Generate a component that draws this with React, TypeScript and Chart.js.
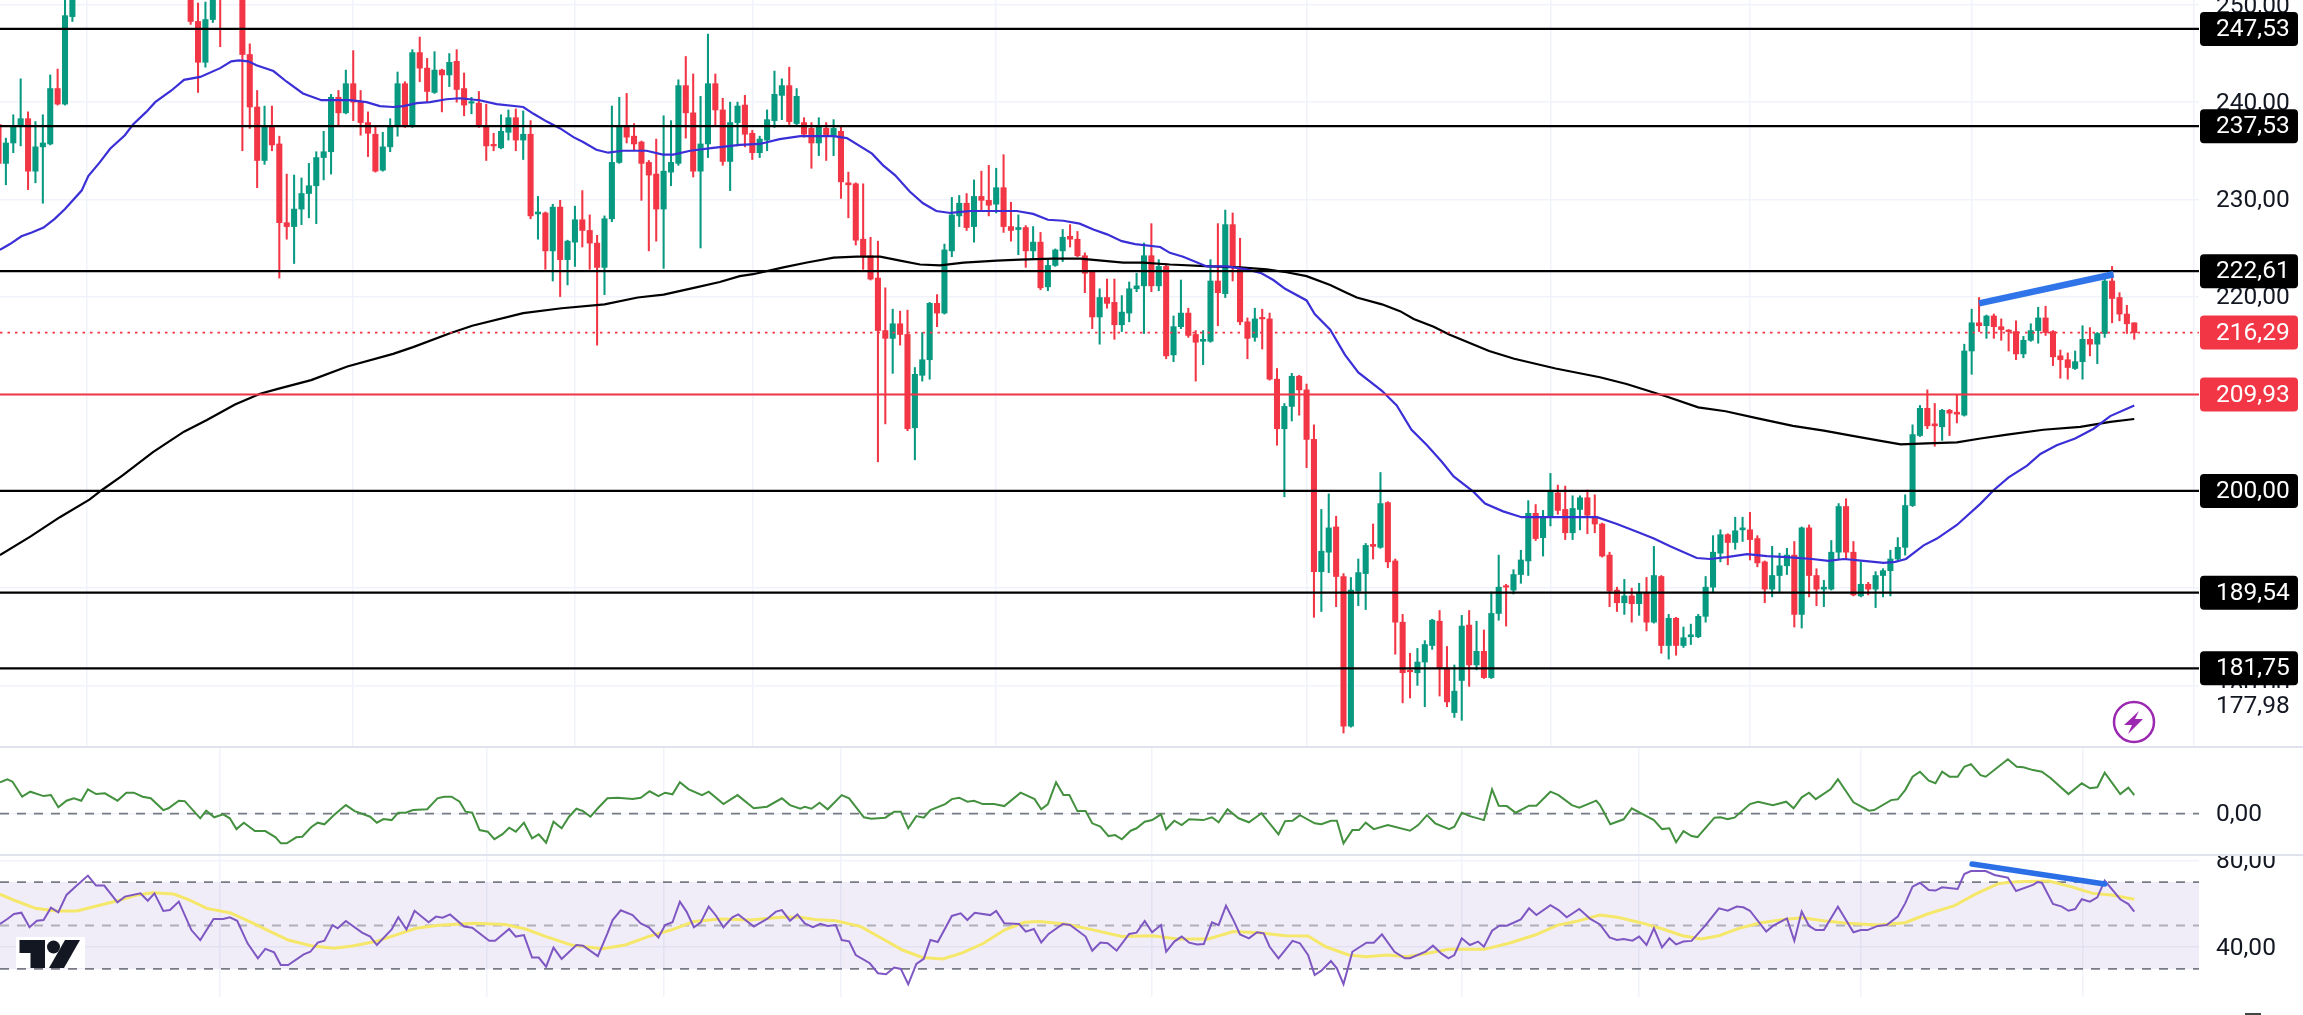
import React, { useEffect, useRef } from "react";
import { Chart, registerables } from "chart.js";

Chart.register(...registerables);

// ---------- candles (decimal comma prices) ----------
const opens = [
  237.7,233.7,235.8,237.5,238.3,232.9,235.4,235.7,241.4,239.8,
  248.8,252,254,256,255,257.5,256,258,259.5,257,
  255.5,257,258,256,257,255,253,248.3,244.1,248.5,
  254,251.5,253,254,244.9,239.5,234.0,237.5,235.7,227.6,
  227.2,229.0,230.6,231.4,234.3,234.9,240.5,238.9,241.9,240.0,
  237.9,236.7,233.0,235.4,237.5,241.9,237.5,245.1,243.5,241.0,
  243.3,242.8,244.2,241.4,239.9,239.9,237.5,235.6,235.3,236.9,
  238.4,236.1,236.7,228.5,228.6,224.7,229.2,223.8,225.6,227.9,
  226.8,225.5,223.0,228.0,233.8,237.6,236.5,235.9,233.8,232.6,
  229.0,232.8,233.7,241.7,238.9,232.9,235.7,241.9,239.2,233.9,
  237.9,239.7,236.8,234.8,236.1,238.1,240.7,241.7,237.8,237.9,
  237.3,235.8,237.3,236.5,237.0,231.7,231.6,225.9,224.2,221.9,
  216.5,215.7,217.2,216.1,206.5,211.9,213.5,219.3,218.3,224.7,
  228.3,229.6,227.2,230.3,229.9,229.5,231.2,227.2,226.9,227.1,
  224.7,225.6,221.0,223.2,224.7,226.2,225.9,224.2,222.5,217.9,
  219.9,219.4,217.1,218.3,220.8,221.1,224.2,221.1,223.1,214.0,
  216.9,218.3,216.1,215.4,215.4,221.6,220.3,227.4,223.0,217.4,
  215.8,217.8,217.7,211.5,206.4,208.7,211.8,210.4,205.3,191.7,
  193.7,196.3,191.2,175.8,189.7,191.5,194.5,194.2,198.8,192.8,
  186.5,181.5,181.3,182.4,184.1,186.6,181.8,177.2,180.5,186.2,
  182.1,183.5,180.8,187.4,190.2,189.8,191.4,192.8,197.7,195.2,
  197.3,199.8,198.1,195.7,198.1,199.3,197.4,196.6,193.4,189.8,
  188.5,189.2,188.4,189.5,186.5,191.2,184.1,186.9,184.1,185.0,
  185.0,187.1,190.1,193.6,195.5,194.7,196.0,196.0,195.1,192.7,
  189.9,191.3,192.3,193.4,187.3,196.2,191.3,189.9,189.9,193.7,
  198.4,193.7,189.2,190.4,189.9,191.3,191.8,193.0,194.2,198.5,
  205.7,208.5,206.9,206.6,208.3,208.1,207.8,214.4,217.3,217.0,
  218.0,216.9,216.5,216.4,214.1,215.5,216.5,217.8,216.4,213.9,
  213.5,212.6,213.3,215.6,215.1,216.2,221.6,219.9,218.2,217.3,
];
const highs = [
  237.8,236.3,238.7,242.4,239.0,238.0,238.7,242.8,243.4,252,
  253.5,255,257,258,258.5,260,259,261,261,259,
  258,259,260,258,259,257,254,250.2,250.3,254,
  255,254,255,255.5,246.0,241.2,239.6,239.6,236.5,232.6,
  232.5,232.2,233.7,234.9,237.0,240.8,241.2,243.3,245.3,241.2,
  239.0,237.5,236.9,238.3,243.1,242.1,245.4,246.7,244.5,245.2,
  243.4,245.0,245.4,243.0,240.5,241.1,239.8,236.8,238.7,239.2,
  239.3,239.1,238.1,230.3,228.7,229.5,229.9,225.8,229.3,230.9,
  228.4,226.3,228.3,239.6,240.5,240.9,237.8,236.0,234.0,236.2,
  238.6,238.1,242.3,244.7,242.9,240.6,247.0,242.9,240.4,240.0,
  240.0,240.7,237.1,236.5,239.2,243.2,242.4,243.6,241.4,238.4,
  237.9,238.4,237.9,238.2,237.6,232.8,231.7,231.6,226.1,225.7,
  220.9,218.7,218.5,218.6,212.7,216.3,219.4,220.2,225.4,230.2,
  230.4,230.6,232.0,232.9,233.5,233.2,234.6,229.7,228.4,227.3,
  227.2,226.6,223.8,224.9,226.9,227.4,226.7,224.5,222.6,220.8,
  221.8,221.8,220.1,221.5,222.4,225.5,227.5,223.8,223.4,218.0,
  221.7,218.8,216.5,216.5,223.8,227.5,228.9,228.6,226.0,217.8,
  218.8,218.7,218.3,212.6,209.0,212.1,211.9,211.0,206.8,198.1,
  199.7,197.4,191.5,191.1,193.0,194.6,196.6,201.9,198.9,193.0,
  187.3,183.3,183.8,184.6,186.8,187.7,184.0,182.1,187.2,187.7,
  186.6,185.7,189.6,193.4,190.4,191.9,193.9,199.0,198.6,198.0,
  201.8,200.6,200.5,199.5,199.5,200.1,199.6,196.7,193.7,190.1,
  190.9,190.0,190.5,191.1,194.3,191.3,187.3,187.0,186.0,186.3,
  187.3,191.2,195.4,196.0,195.6,197.3,197.3,197.8,195.4,192.8,
  194.3,193.6,194.1,194.8,196.3,196.5,192.0,190.8,194.9,198.7,
  199.2,194.8,192.7,190.6,191.7,192.0,193.9,195.2,199.6,206.8,
  208.8,210.4,209.0,208.4,208.4,209.9,215.1,218.7,219.9,218.1,
  218.2,217.7,216.6,217.5,215.9,217.2,218.9,219.0,216.5,214.5,
  214.2,214.4,217.0,216.8,216.3,221.9,223.1,220.4,219.1,217.3,
];
const lows = [
  230.4,231.5,234.8,235.5,231.0,231.7,229.6,235.6,239.7,239.7,
  248.3,251.5,252.5,254,253.5,255.5,254,256.5,256,254.5,
  253.5,255,255,254,254.5,252.5,248.0,241.0,243.6,248.2,
  245.7,251,251,235.0,237.3,231.2,233.6,235.0,221.9,225.9,
  223.4,227.4,228.1,227.5,232.0,232.6,237.5,238.8,238.1,236.6,
  234.4,232.8,232.9,234.9,236.5,237.4,237.4,242.1,240.0,240.9,
  239.0,241.6,240.0,238.6,238.8,237.4,234.0,235.0,235.2,236.1,
  235.0,234.1,228.0,225.9,222.8,221.6,220.0,221.2,223.1,225.1,
  222.8,215.0,220.2,227.7,233.7,235.8,235.1,229.9,224.7,225.7,
  222.9,231.4,233.5,236.3,232.3,225.0,234.3,237.6,233.5,230.9,
  235.5,235.4,234.1,234.3,235.0,237.4,238.2,237.7,237.5,236.4,
  233.2,234.5,234.0,234.5,230.1,228.1,225.3,222.8,221.7,203.0,
  206.9,212.1,215.0,206.2,203.2,211.3,211.5,216.9,218.2,224.1,
  227.2,226.8,225.6,228.9,228.3,228.6,226.6,225.7,224.3,223.0,
  223.9,220.7,220.6,223.1,223.6,225.1,224.1,220.4,216.7,215.1,
  218.8,215.6,216.4,217.4,220.5,216.2,220.5,220.6,213.6,213.3,
  216.7,215.8,211.3,213.0,215.3,217.0,219.9,221.6,217.1,213.6,
  215.4,214.6,211.4,204.7,199.4,207.2,207.8,202.4,187.0,187.6,
  191.6,188.1,175.1,175.7,188.2,187.8,193.0,194.1,192.1,183.2,
  178.2,178.7,180.0,177.8,183.7,178.9,177.8,176.7,176.4,179.9,
  181.6,180.7,180.7,186.7,186.1,189.4,190.5,191.3,194.9,193.3,
  196.4,197.6,195.0,195.0,196.0,195.6,195.7,193.2,188.1,187.6,
  187.3,186.5,187.2,185.6,186.4,183.3,182.7,183.1,183.9,184.2,
  184.9,186.5,189.6,192.7,192.4,194.0,194.8,192.9,192.2,188.5,
  189.1,189.6,191.4,186.0,185.9,189.1,188.2,188.1,189.8,193.0,
  193.0,189.2,189.1,189.3,188.0,189.1,189.2,192.9,193.4,198.4,
  205.6,206.4,204.6,205.2,205.7,207.0,207.7,212.0,216.4,215.7,
  215.7,215.5,214.4,213.5,213.7,215.4,215.2,216.0,212.9,211.6,
  211.5,212.5,211.5,213.9,213.1,215.8,217.3,217.5,216.2,215.6,
];
const closes = [
  233.7,235.8,237.5,238.3,232.9,235.4,235.8,241.4,239.8,248.9,
  252,254,256,255,257.5,256,258,259.5,257,255.5,
  257,258,256,257,255,253,248.3,244.1,248.5,252,
  251.5,253,254,244.9,239.5,234.0,237.5,235.6,227.6,227.2,
  229.0,230.6,231.4,234.3,234.9,240.5,238.9,241.9,240.0,237.9,
  236.8,232.9,235.4,237.5,241.9,237.5,245.1,243.5,241.1,243.3,
  242.8,244.1,241.3,239.7,240.0,237.5,235.5,235.5,237.0,238.4,
  236.1,236.7,228.3,228.7,224.7,229.2,223.8,225.7,227.9,226.8,
  225.5,223.0,228.0,233.8,237.6,236.4,235.7,233.7,232.5,229.0,
  232.9,233.8,241.7,238.9,232.9,235.7,241.9,239.2,233.9,237.9,
  239.6,236.7,234.8,236.2,238.2,240.8,241.7,238.0,240.6,236.7,
  235.8,237.6,236.5,237.3,231.8,231.5,225.8,224.1,221.8,216.5,
  215.7,217.2,216.1,206.4,212.0,213.5,219.3,218.3,224.8,228.4,
  229.6,227.1,230.3,229.9,229.4,231.2,227.2,226.8,227.1,224.7,
  225.6,220.9,223.2,224.8,226.1,225.9,224.2,222.4,217.9,219.9,
  219.3,217.1,218.4,220.8,221.1,224.2,221.1,223.1,213.9,216.9,
  218.3,216.0,215.3,215.6,221.6,220.4,227.4,223.0,217.4,215.7,
  217.7,217.7,211.5,206.4,208.7,211.8,210.4,205.3,191.7,193.8,
  196.2,191.2,175.8,189.8,191.6,194.4,194.3,198.7,192.7,186.5,
  181.3,181.4,182.4,184.2,186.7,181.8,178.3,179.4,186.1,182.1,
  183.5,180.8,187.4,190.1,190.1,191.4,192.9,197.7,195.1,197.3,
  200.0,198.0,195.7,198.2,199.3,197.5,196.6,193.3,189.7,188.5,
  189.2,188.4,189.5,186.5,191.3,184.1,186.9,184.1,184.9,185.2,
  187.1,190.1,193.7,195.5,194.7,195.9,196.2,195.0,192.6,189.9,
  191.3,192.3,193.4,187.3,196.2,191.3,189.9,190.1,193.7,198.4,
  193.7,189.3,190.4,189.9,191.3,191.8,193.0,194.2,198.5,205.8,
  208.5,206.7,206.7,208.3,208.0,207.9,214.4,217.3,217.0,218.0,
  216.9,216.6,216.4,214.1,215.5,216.5,217.8,216.3,213.8,213.5,
  212.7,213.3,215.6,215.1,216.2,221.6,219.8,218.2,217.2,216.29,
];

// ---------- moving averages ----------
const ma50Index = [0.2,1.55,3.1,4.5,6.1,7.6,9,11.25,12.15,13.7,15.1,17.1,18.2,20,21.2,23.4,25.1,27.3,30,31.5,32.5,33.8,34.9,37.2,39,41.2,43.7,47.6,49.8,51.6,53.4,54.8,56.6,58.4,60.6,62.4,65.1,67.4,71,72.4,74.2,76,77.8,79.1,80.9,82.5,84.5,87.7,89.9,91.3,93.6,96.7,100.3,103,105.7,108.5,113,114.8,118.2,119.7,121.3,123.3,125.1,126.9,128.8,131.5,135.1,137.8,140,142,144.1,146.3,148.15,150,152,153.8,157.2,158.5,160.3,163.5,166.2,168.9,170.9,172.5,174.1,177,178.1,180.2,182.2,184,187.2,189.2,191.2,193.3,195.3,196.9,199.6,201.15,203.6,206.1,209,212.2,216.3,219,221.7,224,226.2,229.8,231.6,233.85,236.6,239.3,242,245.4,247.6,249.7,252.4,255.1,256.65,258.1,260.5,262.3,265,268.2,270,272,274.5,276.3,278.5,281,283.5,285.75,289];
const ma50Values = [224.8,225.4,226.2,226.6,227.1,228,229,230.9,232.4,233.8,235.2,236.6,237.7,239,240,241.2,242.3,242.6,243.5,244.2,244.3,244.2,243.8,243.2,242.1,240.9,240.2,240.2,240,239.6,239.5,239.6,239.9,240,240.3,240.4,240.2,239.8,239.5,238.8,238,237.3,236.4,235.9,235.1,234.8,235,235,234.6,234.6,235,235.3,235.6,235.7,236.2,236.5,236.5,236.3,234.7,233.5,232.5,230.8,229.6,228.8,228.6,228.8,228.8,228.8,228.5,227.9,227.8,227.5,226.9,226.4,225.7,225.4,225.1,224.5,224.1,223.1,223.1,222.8,222.4,221.7,220.8,219.6,218.2,216.6,214,212.2,210.3,208.8,206.3,204.7,203,201.5,199.9,198.7,197.9,197.3,197.3,197.3,197.3,196.6,195.8,195.1,194.3,193.1,193,193.2,193.5,193.3,193.2,193,192.8,193,192.8,192.6,192.7,193,194.4,195.1,196.5,198.7,200.1,201.4,202.6,203.8,204.7,205.4,206.4,207.7,208.8];

const ma200Index = [0.2,4.3,8.3,12.3,14,16.8,20.9,25.1,28.2,32,35.4,37.8,42.3,47.2,53.4,56.1,61,64.1,71,76.2,82,86.5,90,94.1,97.6,100.3,102.1,106.2,109.4,113,116.1,119.3,122,124.7,127.4,130.6,135.1,138.2,142.7,146.35,152.2,154.9,158.5,164,168,171.6,174.3,177,180.2,182.4,183.8,187.2,189.65,191.5,194.2,196.3,201.7,205.1,210.7,216.7,220.3,225.8,230,233.7,237.9,242.8,247,250.7,254.3,257.4,260.9,265,268.2,271.8,276.7,281.7,285.75,289];
const ma200Values = [193.4,195.3,197.3,199.1,200.1,201.6,204,206.1,207.3,208.9,210,210.5,211.4,212.8,214.1,214.8,216.2,217,218.3,218.8,219.2,219.9,220.2,220.9,221.5,222.1,222.3,223,223.5,224,224.1,224.1,223.7,223.3,223.2,223.5,223.7,223.8,223.9,223.9,223.5,223.5,223.3,223.1,223,222.8,222.5,222.1,221.2,220.4,219.9,219.2,218.5,217.7,216.9,216.1,214.4,213.6,212.6,211.7,211,209.7,208.6,208.2,207.5,206.7,206.2,205.7,205.2,204.8,204.9,205,205.4,205.8,206.3,206.6,207.1,207.4];

// ---------- money flow pane ----------
const flowIndex = [0.2,1.2,1.9,3.2,4.3,6.1,7.1,8.1,9.2,10.2,11.2,12.1,13.2,14.4,16.1,17.3,18.3,19.5,20.6,22.3,23,24.4,25.2,27.3,28.1,29.2,30.4,31.3,32.2,33.2,34.7,36.1,37.5,38.2,39,40.3,41.1,42.3,43.2,44.1,45.4,47,48.2,50.3,51.2,52.1,53.2,54.1,55.1,56.1,58,59.4,60.3,61.3,62.4,63.2,64.1,65.1,66.2,67.1,68.2,69.1,70,71.1,72.2,73.1,74.1,75.1,76.2,77.2,78.2,79.1,80.1,81.1,82.4,83.8,85.8,86.9,88.1,89.3,90.2,91.2,92.2,93.4,95.2,96.1,98.1,100,102.2,104,106,107.1,108.5,
  109.1,110,111.1,112.2,114.1,115.1,117.1,118.1,120,121.2,122.1,123.1,124.2,125.2,126.1,128.1,129,130,131.1,132,133.2,134.7,136.1,138.3,140.2,141.1,142,143.1,144.1,144.9,146,147.1,148,149.1,150.2,151.1,152,153.2,154,155.1,156.1,157.3,158,159.1,160.1,161.1,163,164.2,165.1,166.3,167.8,169.2,170.9,172,173.2,174.1,175.1,176.1,178.1,179,180.3,181.1,182,183.2,184.1,185,186.1,188,191,192.1,193.3,194.4,196.3,197,198,199.1,201,202.1,203,204.1,205.3,207.1,208.1,210,211.1,212.9,213.9,216.2,
  216.7,217.2,218.1,219.9,221,224,225.1,226.1,227,228,229.1,229.9,232.2,233,234,234.9,237,238.1,240.1,241.9,242.9,244,245,245.9,247.9,248.9,251,253.1,253.8,256.1,257,258,259,260,261.2,262.1,263,264,265.1,266,266.9,268.2,268.9,271.9,273.1,274,275.3,276.5,277.7,280.1,281.9,283,284,285,287.1,288.2,289];
const flowValues = [.157,.172,.16,.085,.11,.088,.093,.032,.065,.077,.065,.122,.098,.102,.065,.105,.105,.085,.077,.018,.027,.065,.063,-.023,.015,-.018,-.003,-.023,-.077,-.045,-.087,-.087,-.118,-.148,-.148,-.118,-.115,-.068,-.045,-.053,-.007,.043,.013,-.015,-.045,-.027,-.032,.005,.005,.018,.022,.077,.085,.085,.06,.01,.005,-.082,-.09,-.127,-.102,-.07,-.09,-.045,-.123,-.103,-.145,-.04,-.073,-.015,.025,.013,-.015,.027,.077,.08,.073,.08,.112,.088,.105,.097,.157,.122,.093,.11,.048,.093,.027,.035,.077,.043,.025,
  .035,.025,.055,.022,.093,.077,-.018,-.025,-.02,.01,.01,-.073,-.012,-.02,.018,.048,.073,.08,.06,.065,.048,.048,.038,.105,.073,.022,.048,.157,.093,.093,.013,.013,-.048,-.065,-.112,-.107,-.128,-.085,-.073,-.04,-.032,-.003,-.078,-.035,-.057,-.028,-.032,-.018,-.043,.022,-.023,-.043,.002,-.048,-.103,-.037,-.035,-.007,-.048,-.053,-.035,-.035,-.148,-.082,-.082,-.045,-.077,-.057,-.085,-.057,-.007,-.048,-.077,-.065,.005,-.012,-.032,.122,.04,.038,.005,.04,.04,.11,.093,.043,.03,.065,
  .043,.01,-.053,-.028,.027,-.032,-.077,-.073,-.143,-.087,-.112,-.117,-.02,-.018,-.027,-.02,.048,.06,.043,.06,.027,.082,.105,.073,.122,.172,.057,.015,.018,.068,.072,.118,.185,.21,.165,.152,.21,.185,.185,.235,.248,.193,.185,.272,.235,.232,.218,.21,.177,.098,.152,.127,.132,.205,.098,.13,.093];

// ---------- RSI pane ----------
const rsiIndex = [0.2,1.2,2.1,3.1,4.2,5.2,6.1,7.1,8.1,9.2,10.4,12.1,13.2,14.3,16.1,17.1,19.2,20.2,21.1,22.3,23.2,24.4,26.1,27.3,29.1,30.4,31.3,32.3,33.7,35.1,36.1,37.3,38.2,39.2,41.3,42.2,43.2,44.1,45.2,45.9,47,49.2,50.3,51.2,53.2,54.1,55.2,56.3,58.2,59.2,60.1,61.1,63,64.1,66.4,67.2,69.1,70,71.1,72.2,73.1,74.1,75.1,76.2,78.2,79.1,81.1,82.4,83.1,84.2,85.8,86.9,88,89.3,90.2,91.2,92.2,93.1,94.1,95,96.1,97.1,98.1,99.3,100.1,102.2,104,105.2,106,107.1,108.1,
  109.1,110.2,111.2,112.2,113.3,114.1,115.1,116,117.9,119,120.1,121.2,122.1,123.1,124.2,125.2,126.1,127.1,129,130.2,131.1,132.1,134.2,135,136.1,138.1,139,140.1,141.1,142.1,144,145,147.1,148,149.1,150.1,151.3,153,154,155.1,156.1,157.3,158,159.1,160.1,161.1,162.2,163.1,164.2,165.1,166.1,167.1,168,169.2,170.3,171.2,172,173.2,175.1,176.1,177.2,178.1,179,180.3,181.1,182,183.2,185.1,186.1,187.2,188.9,190.3,191,193.1,194.1,195.3,196.2,197,198,199.1,200.2,201,202.1,203.1,204.1,206,207.1,208.1,210,211.1,212.2,213.9,215.4,
  216.7,218,219,219.9,221.1,222,223,224,225.1,226.1,227,228,229.1,231,232.8,234,235.2,236.1,237,239.2,240.1,242,243,244,245,245.9,247,248.9,251,252,252.9,254.3,255.5,257,258,259,260,261.2,262.1,263,265.1,266,266.9,268.9,270.1,271.9,273,275.3,275.9,276.5,278,279.2,280.1,281,281.9,283,284,285,287.1,288.2,289];
const rsiValues = [50.7,53,55.3,55.9,49.2,52.2,52.5,58.2,56.1,64.1,67.9,73,68.4,68.4,60.7,63.3,64.8,61.4,64.8,56.7,57.1,61,47.9,43.3,53,53,53.8,52.2,41.8,34.9,39.2,37.6,31.8,31.8,36.7,37.9,42.1,43,50.2,48.7,52.1,46.7,44.9,41,48.2,53.8,48.2,56.8,51.5,54.1,53.6,55.1,49.5,49,43,43,48.4,44.9,45.6,35.2,35.2,31,39.8,34.6,41,40.7,35.9,46.4,52.5,57,54.8,51,49.2,44.5,50.2,51.5,61,56.4,49.2,51.3,58.7,54.5,49.2,53.8,55.1,49.5,53,56.4,57.1,52.2,55.1,
  51,49.2,50.8,49.8,50.2,43.3,42.7,36.4,32.6,28,27.5,30.6,30,22.9,32.3,34.6,43.3,42.4,54.4,55.6,52.5,55.9,54.8,56.7,51,50.7,47.2,48.4,42.2,46.1,50.7,50.2,44.9,38.4,42.2,41.8,38.4,46.1,46.7,52.1,46.9,50.2,37.9,42.6,44.9,42.1,41.3,41.5,51.5,50.2,59.1,52.5,45.9,44.1,46.9,46.4,40.2,34.9,42.9,41.8,36.4,27.2,29.2,33.6,30.3,23,37.9,42.1,42.1,45.9,37.9,34.9,34.9,37.9,40.7,36.9,34.9,36.4,44.1,41,42.6,40.2,47.6,49.9,49.9,52.8,57.9,54.8,59.4,57.1,53.8,57.6,53,
  50.5,44.5,43.3,43.8,43,44.9,41,48.7,39.9,44.1,41.3,42.6,42.9,50.2,57.9,56.8,58.7,58.4,56.8,47.2,49.8,53.3,43,56.4,49.8,47.9,47.9,58.7,46.9,47.9,47.9,49.8,50.2,54.1,60.2,67.9,69.7,66.4,66.1,67.6,66.8,73.7,75.1,75.1,73.3,72,65.9,68.7,70,69.7,59.9,58.7,56.8,57.6,62.1,61,63,70.7,62.1,59.9,56.4];

const rsiMaIndex = [0.2,2.3,5,7.8,10.6,13.3,16.1,18.8,20.9,23.7,25.8,28.2,31.3,34,36.8,39.2,42.3,45.4,47.9,51,53.4,56.5,59.6,64.4,68.6,71.3,74.1,77.5,81.7,84.8,87.9,91,94.1,97.6,101.7,105.9,108.5,110.5,113.3,116.7,119.5,122.3,125,127.8,130.5,133.3,136.1,138.8,140.9,144.4,147.8,152,156.1,159.6,163.7,167.1,170.6,174.1,177.2,179.6,182.7,185.1,187.9,190.6,193.4,196.2,201,204.4,207.9,211,213.4,216.7,219.1,222.2,225.2,227.9,230.4,232.8,235.5,238.5,241.6,244,247,250.1,254.3,258,261,264.6,267.7,270.7,273.1,277.4,280.4,283.4,285.9,289];
const rsiMaValues = [64.4,61.4,57.9,56.7,56.7,59,61.4,64.1,65.1,64.5,61.8,57.9,55.9,51.8,47.2,43.3,40.7,39.5,40.6,42.6,45.2,48.7,50.1,51,50.5,48.4,44.9,41,39.3,41,44.9,47.9,51.8,53,52.5,53.8,53.8,52.8,52.2,49.5,44.1,38.7,35.3,34.6,37.5,41.8,47.9,51.5,51.8,50.7,48.2,44.9,45.3,43.8,43.8,47.2,46.7,45.3,45.2,40.2,36.4,35.6,36.4,35.6,37.2,39,39,41.8,45.6,50.2,51.8,54.8,53.8,51.3,48.4,45.3,43.8,45.3,48.7,51.3,52.8,53.6,52.2,51,50.2,51.3,55.3,59,64.8,69.4,70.2,70.5,67.9,64.8,64.1,62.1];

// ---------- levels, ticks and trend lines ----------
const blackLevels = [247.53, 237.53, 222.61, 200, 189.54, 181.75];
const redLevel = 209.93;
const lastPrice = 216.29;
const priceTicks = [250, 240, 230, 220, 210, 200, 190, 180];
const plainPriceLabel = 177.98;
const flowTicks = [0];
const rsiTicks = [80, 40];
const rsiBands = [70, 50, 30];
const timeGrid = [30, 66, 90, 114, 156, 198, 222, 252, 282];
const priceTrendIndex = [268, 286.2];
const priceTrendValues = [219.3, 222.3];
const rsiTrendIndex = [267.05, 285];
const rsiTrendValues = [78.3, 69.1];

const UP = "#089981";
const DOWN = "#F23645";
const GRID = "#F0F3FA";
const TEXT = "#131722";
const AXIS_W = 104;
const X_MIN = 0.203;
const X_MAX = 297.76;
const FONT = "Roboto";
const FONT_SIZE = 24.5;

const comma = (v: number) => v.toFixed(2).replace(".", ",");
const zip = (xs: number[], ys: number[]) => xs.map((x, i) => ({ x, y: ys[i] }));
const span = (y: number) => [{ x: X_MIN, y }, { x: X_MAX, y }];

function line(data: any[], color: string, width: number, order: number, extra: any = {}) {
  return {
    type: "line",
    data,
    borderColor: color,
    borderWidth: width,
    pointRadius: 0,
    tension: 0,
    fill: false,
    order,
    ...extra,
  };
}

function scales(min: number, max: number, ticks: number[]) {
  return {
    x: {
      type: "linear",
      min: X_MIN,
      max: X_MAX,
      offset: false,
      afterBuildTicks: (s: any) => {
        s.ticks = timeGrid.map((value) => ({ value }));
      },
      ticks: { display: false },
      grid: { color: GRID, lineWidth: 1.5, drawTicks: false },
      border: { display: false },
    },
    y: {
      type: "linear",
      position: "right",
      min,
      max,
      afterBuildTicks: (s: any) => {
        s.ticks = ticks.map((value) => ({ value }));
      },
      afterFit: (s: any) => {
        s.width = AXIS_W;
        s.paddingTop = 0;
        s.paddingBottom = 0;
      },
      ticks: {
        autoSkip: false,
        padding: 17,
        labelOffset: 1.5,
        crossAlign: "near",
        color: TEXT,
        font: { family: FONT, size: FONT_SIZE },
        callback: (v: any) => comma(Number(v)),
      },
      grid: { color: GRID, lineWidth: 1.5, drawTicks: false },
      border: { display: false },
    },
  };
}

const labelsPlugin = {
  id: "priceLabels",
  afterDraw(chart: any) {
    const { ctx, scales: sc } = chart;
    const y = sc.y;
    const boxed: [number, string][] = [
      ...blackLevels.map((v): [number, string] => [v, "#000000"]),
      [lastPrice, DOWN],
      [redLevel, DOWN],
    ];
    ctx.save();
    ctx.font = `${FONT_SIZE}px ${FONT}`;
    ctx.textBaseline = "middle";
    ctx.textAlign = "left";
    const py = y.getPixelForValue(plainPriceLabel);
    ctx.fillStyle = "#ffffff";
    ctx.fillRect(2200, py - 17, 103, 34);
    ctx.fillStyle = TEXT;
    ctx.fillText(comma(plainPriceLabel), 2216, py + 1.5);
    boxed.forEach(([v, color]) => {
      const p = y.getPixelForValue(v);
      ctx.fillStyle = color;
      ctx.beginPath();
      ctx.roundRect(2200, p - 17, 98, 34, 4);
      ctx.fill();
      ctx.fillStyle = "#ffffff";
      ctx.fillText(comma(v), 2216, p + 1);
    });
    // lightning badge
    ctx.strokeStyle = "#9C27B0";
    ctx.lineWidth = 2.5;
    ctx.beginPath();
    ctx.arc(2134, 722, 20, 0, Math.PI * 2);
    ctx.stroke();
    ctx.fillStyle = "#9C27B0";
    ctx.beginPath();
    [[2139, 711], [2124, 725], [2132, 725], [2128, 734], [2143, 719], [2135, 719]].forEach(([a, b], i) =>
      i ? ctx.lineTo(a, b) : ctx.moveTo(a, b)
    );
    ctx.closePath();
    ctx.fill();
    ctx.restore();
  },
};

const logoPlugin = {
  id: "logo",
  afterDraw(chart: any) {
    const { ctx } = chart;
    const top = -856;
    ctx.save();
    ctx.fillStyle = "#ffffff";
    ctx.fillRect(16, 937 + top, 69, 31);
    ctx.fillStyle = "#131722";
    ctx.beginPath();
    [[19.5, 940], [45, 940], [45, 968], [30.5, 968], [30.5, 953], [19.5, 953]].forEach(([a, b], i) =>
      i ? ctx.lineTo(a, b + top) : ctx.moveTo(a, b + top)
    );
    ctx.closePath();
    ctx.fill();
    ctx.beginPath();
    ctx.arc(53.5, 947 + top, 6.5, 0, Math.PI * 2);
    ctx.fill();
    ctx.beginPath();
    [[65, 940], [80, 940], [64, 968], [49, 968]].forEach(([a, b], i) =>
      i ? ctx.lineTo(a, b + top) : ctx.moveTo(a, b + top)
    );
    ctx.closePath();
    ctx.fill();
    ctx.restore();
  },
};

function base(scaleOptions: any) {
  return {
    responsive: false,
    animation: false,
    events: [],
    devicePixelRatio: 1,
    layout: { padding: 0 },
    plugins: { legend: { display: false }, tooltip: { enabled: false } },
    scales: scaleOptions,
  };
}

const candleColors = closes.map((c, i) => (c > opens[i] ? UP : DOWN));

export default function App() {
  const mainRef = useRef<HTMLCanvasElement>(null);
  const flowRef = useRef<HTMLCanvasElement>(null);
  const rsiRef = useRef<HTMLCanvasElement>(null);

  useEffect(() => {
    const main = new Chart(mainRef.current as any, {
      type: "bar",
      data: {
        datasets: [
          {
            data: highs.map((h, i) => ({ x: i, y: [lows[i], h] })),
            backgroundColor: candleColors,
            barThickness: 1.4,
            grouped: false,
            order: 10,
          },
          {
            data: opens.map((o, i) => ({ x: i, y: [Math.min(o, closes[i]), Math.max(o, closes[i])] })),
            backgroundColor: candleColors,
            barThickness: 5.4,
            minBarLength: 1.5,
            grouped: false,
            order: 9,
          },
          line(zip(ma200Index, ma200Values), "#000000", 2.2, 6),
          line(zip(ma50Index, ma50Values), "#3A2FD6", 2.2, 5),
          ...blackLevels.map((v) => line(span(v), "#000000", 2.3, 4)),
          line(span(redLevel), DOWN, 2, 3),
          line(span(lastPrice), DOWN, 1.6, 3, { borderDash: [2.5, 5] }),
          line(zip(priceTrendIndex, priceTrendValues), "#2F74E8", 6.5, 1, { borderCapStyle: "butt" }),
        ] as any,
      },
      options: base(scales(250.51 - 746 / 9.72, 250.51, priceTicks)) as any,
      plugins: [labelsPlugin] as any,
    });

    const flow = new Chart(flowRef.current as any, {
      type: "line",
      data: {
        datasets: [
          line(span(0), "#787B86", 1.8, 3, { borderDash: [9, 8] }),
          line(zip(flowIndex, flowValues), "#43903F", 2, 1),
        ] as any,
      },
      options: base(scales(-0.2015, 0.3285, flowTicks)) as any,
    });

    const rsi = new Chart(rsiRef.current as any, {
      type: "line",
      data: {
        datasets: [
          line(span(rsiBands[0]), "rgba(0,0,0,0)", 0, 9, {
            fill: { value: rsiBands[2] },
            backgroundColor: "rgba(126,87,194,0.11)",
          }),
          line(span(rsiBands[0]), "#787B86", 1.8, 6, { borderDash: [9, 8] }),
          line(span(rsiBands[1]), "rgba(120,123,134,0.55)", 1.8, 6, { borderDash: [9, 8] }),
          line(span(rsiBands[2]), "#787B86", 1.8, 6, { borderDash: [9, 8] }),
          line(zip(rsiMaIndex, rsiMaValues), "#F5E76A", 3, 4),
          line(zip(rsiIndex, rsiValues), "#7E57C2", 2, 3),
          line(zip(rsiTrendIndex, rsiTrendValues), "#2B6FE6", 5.5, 1, { borderCapStyle: "round" }),
        ] as any,
      },
      options: base(scales(17.05, 82.03, rsiTicks)) as any,
      plugins: [logoPlugin] as any,
    });

    return () => {
      main.destroy();
      flow.destroy();
      rsi.destroy();
    };
  }, []);

  const abs = (top: number, height: number): React.CSSProperties => ({
    position: "absolute",
    left: 0,
    top,
    width: 2303,
    height,
    display: "block",
  });

  return (
    <div style={{ position: "absolute", left: 0, top: 0, width: 2303, height: 1015, overflow: "hidden", background: "#fff" }}>
      <canvas ref={mainRef} width={2303} height={746} style={abs(0, 746)} />
      <div style={{ ...abs(746, 2), background: "#E0E3EB" }} />
      <canvas ref={flowRef} width={2303} height={106} style={abs(748, 106)} />
      <div style={{ ...abs(854, 2), background: "#E0E3EB" }} />
      <canvas ref={rsiRef} width={2303} height={141} style={abs(856, 141)} />
      <div style={{ position: "absolute", left: 2245, top: 1013, width: 16, height: 2, background: "#444" }} />
    </div>
  );
}
